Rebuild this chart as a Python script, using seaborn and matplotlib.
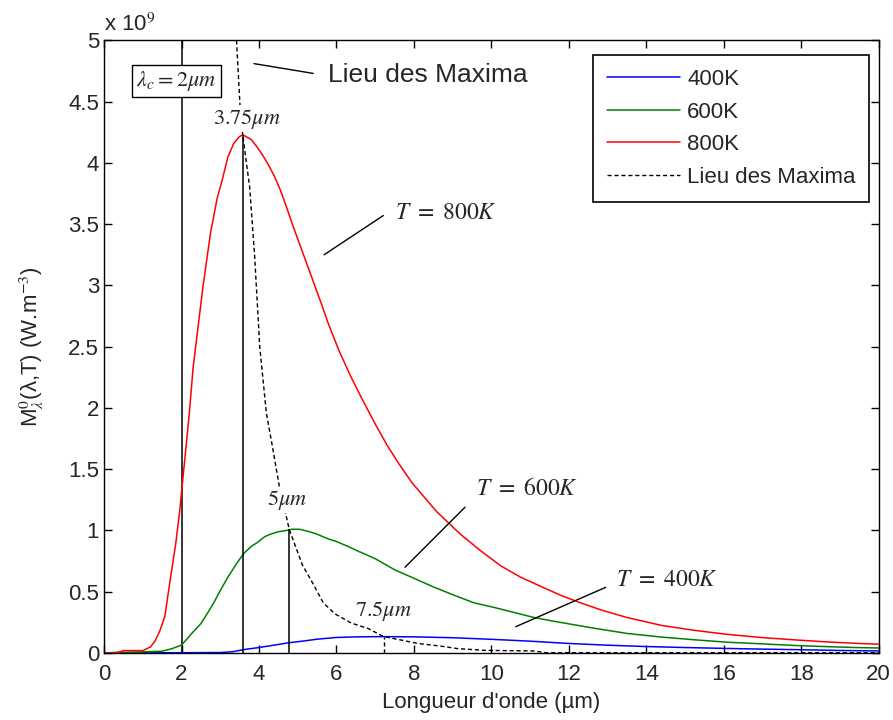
#!/usr/bin/python

import seaborn
import matplotlib
matplotlib.use('Agg')
import matplotlib.pyplot as plt
from matplotlib.ticker import FuncFormatter

# Wavelength (um) and spectral exitance (x 1e9 W.m-3)
x_400 = [0.0, 3.0, 3.3, 3.65, 4.0, 4.4, 4.8, 5.2, 5.5, 6.0, 6.5, 7.2, 8.0, 9.0,
         10.0, 11.0, 12.0, 13.0, 14.0, 15.0, 16.0, 17.0, 18.0, 19.0, 20.0]
y_400 = [0.0, 0.004, 0.01, 0.03, 0.045, 0.065, 0.085, 0.10, 0.113, 0.127, 0.132, 0.134, 0.132, 0.125,
         0.112, 0.097, 0.078, 0.064, 0.053, 0.045, 0.038, 0.032, 0.027, 0.021, 0.017]

x_600 = [0.0, 0.3, 1.0, 1.5, 1.75, 2.0, 2.1, 2.25, 2.5, 2.7, 2.85, 3.0, 3.2, 3.4, 3.6,
         3.8, 3.95, 4.15, 4.3, 4.5, 4.7, 4.85, 5.05, 5.3, 5.5, 5.8, 6.0, 6.3, 6.5,
         7.0, 7.5, 8.0, 8.5, 9.05, 9.55, 10.1, 10.6, 11.1, 11.6, 12.15, 12.7, 13.5,
         14.4, 15.25, 16.1, 17.0, 17.8, 18.7, 19.4, 20.0]
y_600 = [0.0, 0.005, 0.01, 0.015, 0.035, 0.065, 0.10, 0.155, 0.24, 0.34, 0.42, 0.51, 0.62, 0.72, 0.81,
         0.87, 0.90, 0.95, 0.97, 0.99, 1.00, 1.01, 1.01, 0.99, 0.97, 0.93, 0.91, 0.87, 0.84,
         0.77, 0.68, 0.61, 0.54, 0.47, 0.41, 0.37, 0.33, 0.29, 0.26, 0.23, 0.20, 0.16,
         0.13, 0.108, 0.088, 0.075, 0.062, 0.052, 0.045, 0.041]

x_800 = [0.0, 0.3, 0.5, 1.0, 1.2, 1.32, 1.44, 1.57, 1.7, 1.85, 1.95, 2.05, 2.2, 2.3,
         2.45, 2.55, 2.75, 2.92, 3.05, 3.2, 3.35, 3.48, 3.58, 3.8, 3.95, 4.1, 4.25,
         4.4, 4.55, 4.7, 4.85, 5.0, 5.15, 5.3, 5.45, 5.6, 5.8, 6.05, 6.35, 6.65, 7.0,
         7.3, 7.6, 7.95, 8.3, 8.6, 8.9, 9.2, 9.7, 10.25, 10.75, 11.3, 11.8, 12.3,
         12.85, 13.5, 14.4, 15.25, 16.1, 17.0, 17.8, 18.7, 19.5, 20.0]
y_800 = [0.0, 0.0, 0.02, 0.02, 0.05, 0.10, 0.18, 0.30, 0.58, 0.89, 1.15, 1.47, 1.95, 2.33,
         2.72, 2.98, 3.43, 3.71, 3.86, 4.05, 4.16, 4.21, 4.23, 4.19, 4.13, 4.06, 3.98,
         3.89, 3.78, 3.65, 3.51, 3.38, 3.25, 3.12, 2.99, 2.86, 2.68, 2.48, 2.27, 2.08, 1.87,
         1.70, 1.55, 1.39, 1.26, 1.15, 1.06, 0.97, 0.84, 0.71, 0.62, 0.54, 0.47, 0.41,
         0.35, 0.29, 0.225, 0.185, 0.152, 0.126, 0.108, 0.09, 0.078, 0.072]

# locus of the maxima (Wien)
x_lieu = [3.42, 3.51, 3.58, 3.76, 3.89, 4.02, 4.19, 4.35, 4.52, 4.66, 4.78, 5.12, 5.37,
          5.66, 5.96, 6.38, 6.82, 7.22, 7.67, 8.1, 8.7, 9.13, 9.82, 11.1, 11.4, 20.0]
y_lieu = [5.0, 4.47, 4.23, 3.80, 3.23, 2.50, 1.96, 1.68, 1.37, 1.18, 1.01, 0.72, 0.58,
          0.41, 0.32, 0.245, 0.20, 0.134, 0.106, 0.078, 0.056, 0.036, 0.022, 0.017, 0.003, 0.003]

# peaks of each curve and cut-off wavelength
peak_x = [3.58, 4.78]
peak_y = [4.23, 1.01]
peak_400_x = 7.22
peak_400_y = 0.134
lambda_c = 2.0

series_labels = ['400K', '600K', '800K', 'Lieu des Maxima']
x_ticks = list(range(0, 21, 2))
y_ticks = [0, 0.5, 1, 1.5, 2, 2.5, 3, 3.5, 4, 4.5, 5]


def create_plot():
    seaborn.set_style('ticks')
    plt.rcParams['font.family'] = ['Liberation Sans', 'DejaVu Sans']
    plt.rcParams['mathtext.fontset'] = 'stix'
    plt.rcParams['xtick.direction'] = 'in'
    plt.rcParams['ytick.direction'] = 'in'
    plt.rcParams['xtick.top'] = True
    plt.rcParams['ytick.right'] = True

    fig = plt.figure(figsize=(8.93, 7.2), dpi=100)
    ax = fig.add_axes([0.1165, 0.093, 0.8675, 0.851])

    seaborn.lineplot(x=x_400, y=y_400, color='#0000ff', linewidth=1.1, label=series_labels[0],
                     estimator=None, sort=False, ax=ax)
    seaborn.lineplot(x=x_600, y=y_600, color='#008000', linewidth=1.1, label=series_labels[1],
                     estimator=None, sort=False, ax=ax)
    seaborn.lineplot(x=x_800, y=y_800, color='#ff0000', linewidth=1.1, label=series_labels[2],
                     estimator=None, sort=False, ax=ax)
    seaborn.lineplot(x=x_lieu, y=y_lieu, color='black', linewidth=1.0, linestyle=(0, (3, 2)),
                     label=series_labels[3], estimator=None, sort=False, ax=ax)

    # vertical markers
    ax.axvline(lambda_c, color='black', linewidth=1.1, zorder=1)
    ax.vlines(peak_x, 0, peak_y, color='black', linewidth=1.1)
    ax.vlines(peak_400_x, 0, peak_400_y, color='black', linewidth=1.0, linestyle=(0, (3, 2)))

    # annotations
    ax.text(1.87, 4.67, r'$\lambda_c = 2\mu m$', fontsize=16, ha='center', va='center', zorder=5,
            bbox=dict(facecolor='white', edgecolor='black', linewidth=1, pad=3))
    white = dict(facecolor='white', edgecolor='none', pad=1)
    ax.text(3.70, 4.36, r'$3.75\mu m$', fontsize=16, ha='center', va='center', bbox=white, zorder=5)
    ax.text(4.72, 1.25, r'$5\mu m$', fontsize=16, ha='center', va='center', bbox=white, zorder=5)
    ax.text(7.23, 0.34, r'$7.5\mu m$', fontsize=16, ha='center', va='center', zorder=5)

    line = dict(arrowstyle='-', color='black', linewidth=1, shrinkA=0, shrinkB=0)
    ax.annotate('', xy=(3.87, 4.81), xytext=(5.40, 4.73), arrowprops=line)
    ax.text(5.77, 4.72, 'Lieu des Maxima', fontsize=19, ha='left', va='center')
    ax.annotate('', xy=(5.68, 3.25), xytext=(7.21, 3.57), arrowprops=line)
    ax.text(7.5, 3.59, r'$T\ =\ 800K$', fontsize=17, ha='left', va='center')
    ax.annotate('', xy=(7.77, 0.70), xytext=(9.32, 1.19), arrowprops=line)
    ax.text(9.6, 1.335, r'$T\ =\ 600K$', fontsize=17, ha='left', va='center')
    ax.annotate('', xy=(10.63, 0.215), xytext=(12.95, 0.536), arrowprops=line)
    ax.text(13.23, 0.595, r'$T\ =\ 400K$', fontsize=17, ha='left', va='center')

    ax.set_xlim(0, 20)
    ax.set_ylim(0, 5)
    ax.set_xticks(x_ticks)
    ax.set_yticks(y_ticks)
    ax.yaxis.set_major_formatter(FuncFormatter(lambda v, p: '%g' % v))
    ax.tick_params(labelsize=16, length=6, width=1, color='black')
    ax.tick_params(axis='x', pad=8)
    for spine in ax.spines.values():
        spine.set_color('black')
        spine.set_linewidth(1)

    ax.set_xlabel("Longueur d'onde (µm)", fontsize=16, labelpad=5)
    ax.set_ylabel(r'M$_{\lambda}^{0}$(λ,T) (W.m$^{-3}$)', fontsize=16, labelpad=16)
    ax.text(0.0, 1.008, r'x 10$^{9}$', transform=ax.transAxes, fontsize=16,
            ha='left', va='bottom')

    leg = ax.legend(loc='upper right', bbox_to_anchor=(0.988, 0.9755), fontsize=16,
                    fancybox=False, framealpha=1, edgecolor='black', handlelength=3.3,
                    handletextpad=0.3, labelspacing=0.52, borderpad=0.62, borderaxespad=0)
    leg.get_frame().set_linewidth(1.2)

    plt.savefig('out.png', dpi=100)


def main():
    create_plot()


if __name__ == '__main__':
    main()
